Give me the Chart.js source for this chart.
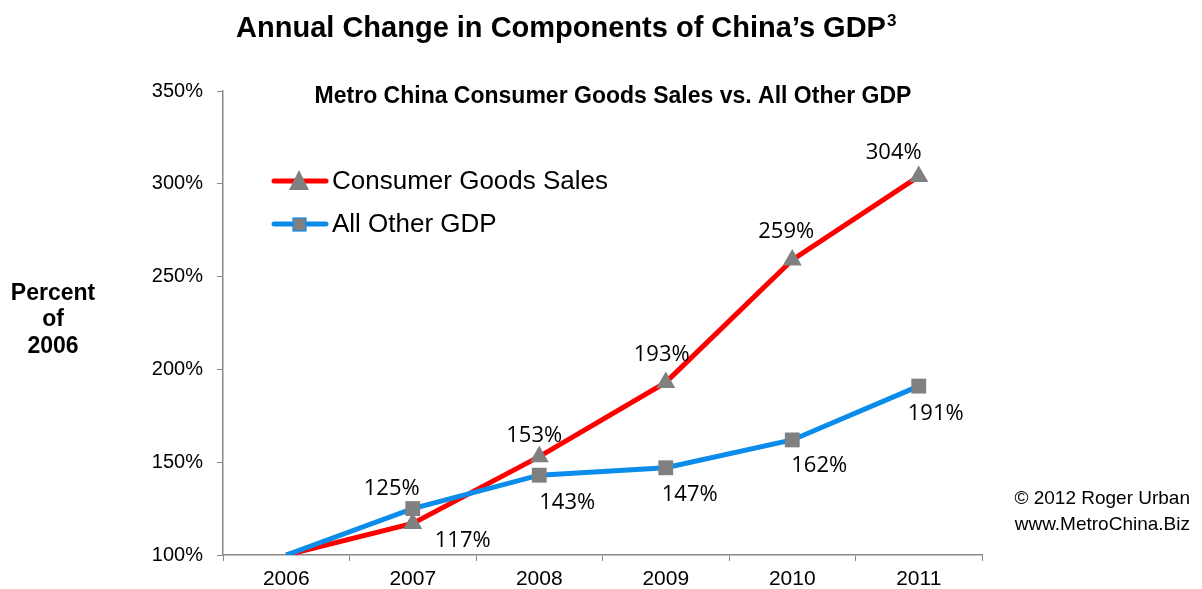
<!DOCTYPE html>
<html><head><meta charset="utf-8">
<script src="https://cdn.jsdelivr.net/npm/chart.js@4/dist/chart.umd.min.js"></script>
<style>html,body{margin:0;padding:0;background:#fff}#wrap{width:1202px;height:589px;position:relative}</style>
</head><body><div id="wrap"><canvas id="c" width="1202" height="589"></canvas></div>
<script>
const categories = ['2006','2007','2008','2009','2010','2011'];
const consumerGoods = [100, 117, 153, 193, 259, 304];
const allOtherGDP = [100, 125, 143, 147, 162, 191];
const yTicks = [100, 150, 200, 250, 300, 350];
const seriesNames = ['Consumer Goods Sales', 'All Other GDP'];
const titleText = 'Annual Change in Components of China\u2019s GDP';
const subtitleText = 'Metro China Consumer Goods Sales vs. All Other GDP';

// label offsets (style): [dx, dy] relative to point, null = no label
const labelOffsets = [
  [null, [50, 17], [-5, -21], [-4, -28], [-6, -28], [-25, -24]],
  [null, [-21, -20], [28, 28], [24, 27], [27, 26], [17, 28]]
];

const RED = '#ff0000', BLUE = '#0a8cea', GREY = '#808080';

const overlay = {
  id: 'overlay',
  afterDraw(chart) {
    const ctx = chart.ctx;
    ctx.save();
    ctx.fillStyle = '#000';
    ctx.textAlign = 'center';
    ctx.textBaseline = 'middle';
    // title
    ctx.font = 'bold 29px "Liberation Sans", Arial, sans-serif';
    const tw = ctx.measureText(titleText).width;
    const tx = 561;
    ctx.fillText(titleText, tx, 29);
    ctx.font = 'bold 17px "Liberation Sans", Arial, sans-serif';
    ctx.textAlign = 'left';
    ctx.fillText('3', tx + tw / 2 + 1, 21);
    // subtitle
    ctx.textAlign = 'center';
    ctx.font = 'bold 23px "Liberation Sans", Arial, sans-serif';
    ctx.fillText(subtitleText, 613, 97);
    // y label
    ctx.font = 'bold 23px "Liberation Sans", Arial, sans-serif';
    ctx.fillText('Percent', 53, 294);
    ctx.fillText('of', 53, 320);
    ctx.fillText('2006', 53, 347);
    // copyright
    ctx.font = '19px "Liberation Sans", Arial, sans-serif';
    ctx.textAlign = 'right';
    ctx.fillText('\u00a9 2012 Roger Urban', 1190, 499);
    ctx.fillText('www.MetroChina.Biz', 1190, 525);
    // legend
    const leg = [[RED, 'triangle', 181], [BLUE, 'rect', 224]];
    leg.forEach((l, i) => {
      ctx.strokeStyle = l[0];
      ctx.lineWidth = 5;
      ctx.lineCap = 'round';
      ctx.beginPath(); ctx.moveTo(274, l[2]); ctx.lineTo(326, l[2]); ctx.stroke();
      ctx.fillStyle = GREY;
      if (l[1] === 'triangle') {
        ctx.beginPath(); ctx.moveTo(299, l[2] - 11); ctx.lineTo(309, l[2] + 9); ctx.lineTo(289, l[2] + 9); ctx.closePath(); ctx.fill();
      } else {
        ctx.fillRect(293, l[2] - 6, 13, 13);
        ctx.strokeStyle = BLUE; ctx.lineWidth = 1.2; ctx.strokeRect(293, l[2] - 6, 13, 13);
      }
      ctx.fillStyle = '#000';
      ctx.textAlign = 'left';
      ctx.font = '26px "Liberation Sans", Arial, sans-serif';
      ctx.fillText(seriesNames[i], 332, l[2] + 1);
    });
    // data labels
    ctx.textAlign = 'center';
    ctx.font = '22px "Open Sans", "DejaVu Sans", sans-serif';
    chart.data.datasets.forEach((ds, di) => {
      const meta = chart.getDatasetMeta(di);
      meta.data.forEach((pt, i) => {
        const off = labelOffsets[di][i];
        if (!off) return;
        ctx.fillText(ds.data[i] + '%', pt.x + off[0], pt.y + off[1]);
      });
    });
    ctx.restore();
  }
};

new Chart(document.getElementById('c'), {
  type: 'line',
  data: {
    labels: categories,
    datasets: [
      { label: seriesNames[0], data: consumerGoods, borderColor: RED, borderWidth: 5, pointStyle: 'triangle', pointRadius: c => c.dataIndex === 0 ? 0 : 11, pointBackgroundColor: GREY, pointBorderColor: GREY, pointBorderWidth: 0, tension: 0, order: 2 },
      { label: seriesNames[1], data: allOtherGDP, borderColor: BLUE, borderWidth: 5, pointStyle: 'rect', pointRadius: c => c.dataIndex === 0 ? 0 : 10.5, pointBackgroundColor: GREY, pointBorderColor: GREY, pointBorderWidth: 0, tension: 0, order: 1 }
    ]
  },
  options: {
    responsive: false,
    animation: false,
    devicePixelRatio: 1,
    layout: { padding: { left: 150, right: 220, top: 91, bottom: 0 } },
    plugins: { legend: { display: false }, tooltip: { enabled: false }, title: { display: false } },
    elements: { point: { hoverRadius: 11 } },
    scales: {
      x: {
        offset: true,
        grid: { offset: true, drawOnChartArea: false, drawTicks: true, tickLength: 6, color: '#888', lineWidth: 1 },
        border: { color: '#888', width: 1.5 },
        ticks: { color: '#000', font: { family: '"Liberation Sans", Arial, sans-serif', size: 21 }, padding: 6, maxRotation: 0 },
        afterFit(s) { s.height = 34; }
      },
      y: {
        min: 100, max: 350,
        afterBuildTicks(s) { s.ticks = yTicks.map(v => ({ value: v })); },
        grid: { drawOnChartArea: false, drawTicks: true, tickLength: 6, color: '#888', lineWidth: 1 },
        border: { color: '#888', width: 1.5 },
        ticks: { color: '#000', font: { family: '"Liberation Sans", Arial, sans-serif', size: 20 }, padding: 14, callback: v => v + '%' },
        afterFit(s) { s.width = 73; }
      }
    }
  },
  plugins: [overlay]
});
</script></body></html>
